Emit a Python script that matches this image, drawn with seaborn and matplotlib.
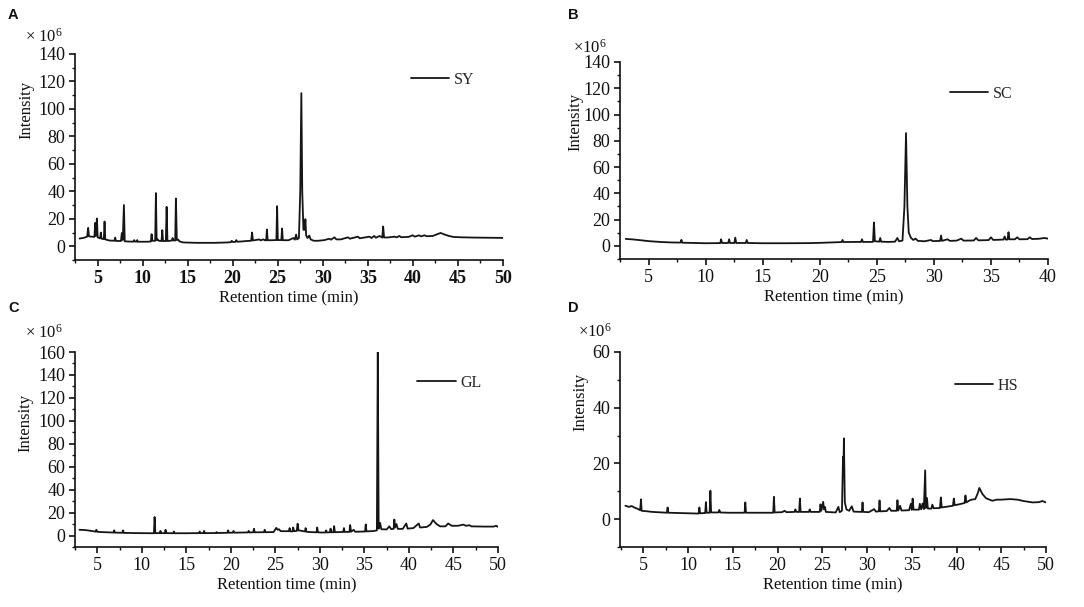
import matplotlib
matplotlib.use("Agg")
import matplotlib.pyplot as plt
import pandas as pd
import seaborn as sns
from matplotlib.ticker import MultipleLocator

# ---------------- data (retention time [min], intensity [x10^6]) ----------------
sy_points = [
    (3.0, 5.6), (3.5, 6.2), (3.85, 7.0), (3.96, 13.4), (4.05, 7.2), (4.4, 7.0), (4.65, 6.8),
    (4.74, 17.0), (4.82, 7.5), (4.93, 20.2), (5.02, 6.5), (5.28, 5.8), (5.37, 10.0), (5.45, 5.5),
    (5.7, 5.2), (5.78, 18.0), (5.86, 5.0), (6.3, 4.2), (6.88, 4.0), (6.96, 6.3), (7.04, 3.9),
    (7.6, 3.8), (7.7, 9.7), (7.8, 4.5), (7.93, 30.0), (8.02, 3.6), (8.6, 3.4), (9.0, 3.4),
    (9.07, 4.5), (9.15, 3.4), (9.35, 3.4), (9.4, 4.5), (9.47, 3.3), (10.5, 3.3), (10.92, 3.5),
    (11.0, 8.8), (11.08, 4.0), (11.4, 4.0), (11.48, 38.7), (11.56, 4.5), (11.67, 5.0), (11.8, 4.0),
    (12.1, 3.8), (12.19, 11.7), (12.27, 3.8), (12.58, 3.8), (12.67, 28.7), (12.76, 3.8),
    (13.25, 4.2), (13.33, 6.0), (13.42, 4.2), (13.62, 4.2), (13.7, 34.8), (13.8, 4.5),
    (13.96, 4.8), (14.1, 3.5), (14.5, 2.8), (16.0, 2.5), (18.0, 2.5), (19.5, 2.8), (19.8, 3.0),
    (19.9, 4.0), (20.0, 3.1), (20.3, 3.2), (20.4, 4.5), (20.5, 3.3), (21.0, 3.5), (21.5, 3.8),
    (22.05, 4.0), (22.15, 10.0), (22.25, 4.2), (22.96, 5.0), (23.1, 4.3), (23.4, 5.0),
    (23.6, 4.3), (23.72, 4.3), (23.8, 12.2), (23.88, 4.4), (24.3, 4.4), (24.85, 4.5),
    (24.93, 29.2), (25.01, 4.5), (25.4, 4.5), (25.48, 13.0), (25.56, 4.4), (26.2, 4.4),
    (26.74, 6.0), (26.9, 4.8), (27.04, 8.5), (27.15, 5.0), (27.35, 6.0), (27.5, 40.0),
    (27.62, 111.5), (27.72, 40.0), (27.85, 12.0), (27.98, 12.0), (28.07, 19.7), (28.15, 8.0),
    (28.3, 6.0), (28.5, 7.8), (28.65, 5.0), (29.0, 4.0), (29.5, 4.0), (30.2, 4.5), (30.7, 5.5),
    (30.9, 4.8), (31.3, 6.5), (31.5, 5.0), (32.0, 5.0), (32.8, 6.5), (33.0, 5.5), (33.9, 7.0),
    (34.1, 5.8), (35.2, 7.0), (35.4, 6.0), (35.7, 7.5), (35.9, 6.2), (36.3, 7.5), (36.6, 6.3),
    (36.7, 14.4), (36.8, 6.4), (37.2, 6.4), (37.96, 7.0), (38.2, 6.5), (38.5, 7.5), (38.7, 6.6),
    (39.5, 6.8), (40.0, 8.0), (40.2, 7.0), (40.7, 8.0), (40.9, 7.2), (41.3, 8.0), (41.5, 7.3),
    (42.2, 7.5), (42.7, 8.8), (43.07, 9.7), (43.5, 8.6), (44.0, 7.5), (44.5, 6.8), (45.5, 6.5),
    (47.0, 6.3), (48.5, 6.2), (50.0, 6.1),
]

sc_points = [
    (3.0, 5.3), (3.5, 5.0), (4.2, 4.4), (5.0, 3.6), (6.0, 3.0), (7.0, 2.6), (7.8, 2.5),
    (7.88, 4.6), (7.96, 2.4), (9.0, 2.2), (10.0, 2.0), (11.28, 2.1), (11.36, 5.0), (11.44, 2.2),
    (11.98, 2.2), (12.06, 5.0), (12.14, 2.2), (12.52, 2.2), (12.6, 6.3), (12.68, 2.2),
    (13.52, 2.2), (13.6, 4.5), (13.68, 2.2), (15.0, 2.0), (17.0, 2.0), (19.0, 2.1), (20.0, 2.3),
    (21.0, 2.6), (21.92, 2.9), (22.0, 4.5), (22.08, 2.9), (23.0, 3.0), (23.62, 3.0), (23.7, 5.0),
    (23.78, 3.0), (24.5, 3.0), (24.67, 3.1), (24.75, 17.8), (24.83, 3.5), (25.22, 3.2),
    (25.3, 6.0), (25.38, 3.2), (26.0, 3.0), (26.6, 3.2), (26.8, 6.0), (26.95, 3.5), (27.25, 4.0),
    (27.42, 30.0), (27.56, 85.9), (27.68, 30.0), (27.8, 10.0), (28.0, 6.0), (28.2, 4.5),
    (28.4, 5.5), (28.6, 3.8), (29.2, 3.5), (29.75, 4.5), (29.9, 3.6), (30.55, 3.8), (30.63, 7.9),
    (30.71, 3.8), (31.2, 5.0), (31.4, 3.8), (32.0, 4.0), (32.4, 5.5), (32.6, 4.0), (33.5, 4.1),
    (33.7, 6.0), (33.9, 4.2), (34.8, 4.4), (35.0, 6.5), (35.2, 4.5), (36.1, 4.8), (36.2, 7.1),
    (36.3, 4.8), (36.46, 4.8), (36.54, 10.4), (36.62, 5.0), (37.1, 5.0), (37.3, 6.5),
    (37.5, 5.0), (38.2, 5.1), (38.4, 6.5), (38.6, 5.2), (39.2, 5.4), (39.7, 6.0), (40.0, 5.5),
]

gl_points = [
    (3.0, 5.0), (3.6, 4.8), (4.0, 4.4), (4.82, 3.4), (4.9, 5.0), (4.98, 3.3), (5.5, 3.0),
    (6.82, 2.6), (6.9, 4.5), (6.98, 2.5), (7.82, 2.4), (7.9, 4.5), (7.98, 2.3), (9.5, 2.1),
    (11.0, 2.0), (11.36, 2.0), (11.44, 16.1), (11.52, 2.1), (12.02, 2.1), (12.1, 4.0),
    (12.18, 2.1), (12.59, 2.1), (12.67, 5.0), (12.75, 2.1), (13.52, 2.0), (13.6, 3.5),
    (13.68, 2.0), (15.0, 2.0), (16.42, 2.1), (16.5, 3.5), (16.58, 2.1), (16.92, 2.1), (17.0, 4.0),
    (17.08, 2.1), (18.32, 2.2), (18.4, 3.0), (18.48, 2.2), (19.62, 2.4), (19.7, 4.5), (19.78, 2.4),
    (20.22, 2.5), (20.3, 4.0), (20.38, 2.5), (21.92, 2.7), (22.0, 4.0), (22.08, 2.7), (22.52, 2.8),
    (22.6, 5.9), (22.68, 2.8), (23.72, 2.9), (23.8, 5.0), (23.88, 2.9), (24.8, 3.0), (25.1, 6.7),
    (25.25, 5.0), (25.4, 5.5), (25.6, 3.8), (26.0, 3.8), (26.52, 3.8), (26.6, 6.5), (26.68, 3.6),
    (26.92, 3.6), (27.0, 7.0), (27.1, 3.8), (27.4, 4.0), (27.5, 10.3), (27.6, 4.5), (28.0, 4.0),
    (28.32, 3.5), (28.4, 6.5), (28.48, 3.3), (29.0, 3.0), (29.62, 2.8), (29.7, 7.0), (29.78, 2.8),
    (30.2, 2.6), (30.62, 2.7), (30.7, 4.5), (30.78, 2.7), (31.12, 2.8), (31.2, 6.0), (31.28, 2.8),
    (31.52, 2.9), (31.6, 8.2), (31.68, 2.9), (32.62, 3.1), (32.7, 6.5), (32.78, 3.1), (33.32, 3.2),
    (33.4, 9.1), (33.5, 3.3), (33.8, 5.0), (33.95, 3.3), (34.5, 3.4), (35.07, 3.5), (35.15, 9.7),
    (35.23, 3.6), (36.0, 3.9), (36.4, 4.5), (36.5, 160.0), (36.6, 6.0), (36.76, 11.0),
    (36.9, 5.5), (37.5, 5.3), (37.8, 8.0), (38.0, 5.6), (38.28, 5.8), (38.36, 14.0), (38.45, 7.0),
    (38.6, 10.0), (38.75, 5.8), (39.3, 5.8), (39.7, 10.5), (39.85, 6.0), (40.5, 6.5),
    (41.1, 10.5), (41.25, 7.0), (42.0, 7.5), (42.4, 9.5), (42.7, 13.5), (43.1, 10.0), (43.5, 8.0),
    (44.1, 8.0), (44.4, 10.5), (44.8, 8.5), (45.5, 8.5), (46.1, 9.5), (46.4, 8.5), (46.8, 9.0),
    (47.0, 8.0), (48.5, 7.8), (49.5, 7.8), (49.8, 8.5), (50.0, 7.5),
]

hs_points = [
    (3.0, 4.8), (3.4, 4.4), (3.7, 4.7), (4.0, 4.2), (4.5, 3.5), (4.66, 3.2), (4.74, 7.1),
    (4.82, 3.0), (5.5, 2.8), (6.0, 2.6), (7.0, 2.4), (7.64, 2.3), (7.72, 4.2), (7.8, 2.3),
    (9.0, 2.2), (10.0, 2.1), (11.0, 2.0), (11.19, 2.0), (11.27, 4.2), (11.35, 2.1), (11.92, 2.2),
    (12.0, 6.1), (12.08, 2.3), (12.42, 2.3), (12.5, 10.2), (12.58, 2.4), (13.4, 2.4), (13.5, 3.3),
    (13.6, 2.4), (14.5, 2.3), (16.32, 2.3), (16.4, 6.0), (16.48, 2.3), (18.0, 2.3), (19.52, 2.3),
    (19.6, 8.0), (19.68, 2.4), (20.5, 2.5), (20.8, 3.0), (21.0, 2.5), (21.9, 2.6), (22.0, 3.5),
    (22.1, 2.6), (22.42, 2.6), (22.5, 7.4), (22.58, 2.6), (23.5, 2.6), (23.6, 3.5), (23.7, 2.6),
    (24.72, 2.6), (24.8, 5.3), (24.9, 3.0), (25.1, 6.2), (25.2, 3.5), (25.3, 4.4), (25.4, 2.6),
    (26.5, 2.4), (26.8, 4.4), (26.95, 2.5), (27.2, 3.0), (27.32, 22.4), (27.36, 16.0),
    (27.42, 29.0), (27.52, 6.0), (27.7, 3.5), (28.0, 3.0), (28.3, 4.6), (28.5, 2.7), (29.42, 2.6),
    (29.5, 6.0), (29.58, 2.6), (30.2, 2.5), (30.8, 3.6), (31.0, 2.7), (31.32, 2.8), (31.4, 6.7),
    (31.48, 2.8), (32.2, 2.9), (32.5, 4.0), (32.7, 3.0), (33.32, 3.0), (33.4, 6.8), (33.5, 3.1),
    (33.7, 4.8), (33.85, 3.1), (34.7, 3.2), (34.9, 5.5), (35.0, 3.3), (35.1, 7.4), (35.2, 3.4),
    (35.8, 3.4), (35.9, 5.5), (36.05, 3.5), (36.2, 5.6), (36.35, 3.6), (36.5, 17.5), (36.58, 4.0),
    (36.7, 7.6), (36.8, 3.8), (37.2, 3.8), (37.3, 5.2), (37.45, 3.9), (38.15, 4.0), (38.25, 7.8),
    (38.35, 4.2), (39.0, 4.5), (39.6, 4.8), (39.7, 7.4), (39.8, 5.0), (40.4, 5.4), (40.9, 5.8),
    (41.0, 8.5), (41.1, 6.0), (41.5, 6.8), (41.7, 7.0), (42.1, 7.2), (42.4, 9.5), (42.55, 11.2),
    (42.9, 9.0), (43.3, 7.5), (44.0, 6.6), (44.5, 7.0), (45.0, 7.0), (46.0, 7.2), (46.8, 7.0),
    (47.5, 6.5), (48.5, 6.0), (49.2, 6.1), (49.6, 6.5), (50.0, 6.0),
]

sample_names = ["SY", "SC", "GL", "HS"]
panel_letters = ["A", "B", "C", "D"]
x_ticks_50 = [5, 10, 15, 20, 25, 30, 35, 40, 45, 50]
x_ticks_40 = [5, 10, 15, 20, 25, 30, 35, 40]
y_ticks_A = [0, 20, 40, 60, 80, 100, 120, 140]
y_ticks_C = [0, 20, 40, 60, 80, 100, 120, 140, 160]
y_ticks_D = [0, 20, 40, 60]

# ---------------- styling ----------------
sns.set_theme(style="ticks")
plt.rcParams["font.family"] = ["Liberation Serif", "DejaVu Serif"]
plt.rcParams["mathtext.fontset"] = "custom"
plt.rcParams["mathtext.rm"] = "Liberation Serif"
plt.rcParams["mathtext.default"] = "regular"

W, H = 1084, 607
fig = plt.figure(figsize=(W / 100, H / 100), dpi=100)


def rect(l, r, t, b):
    return [l / W, 1 - b / H, (r - l) / W, (b - t) / H]


panels = [
    dict(pts=sy_points, rect=rect(75, 503, 54, 260), xlim=(2.5, 50), ylim=(-10, 140),
         xt=x_ticks_50, yt=y_ticks_A, leg=(0.785, 0.874), ylab=(-0.096, 0.728),
         bold_x=True, mult=("× 10$^{6}$", 25, 37), letter=(8, 15)),
    dict(pts=sc_points, rect=rect(620, 1048, 62, 259), xlim=(2.5, 40), ylim=(-10, 140),
         xt=x_ticks_40, yt=y_ticks_A, leg=(0.771, 0.838), ylab=(-0.086, 0.695),
         bold_x=False, mult=("×10$^{6}$", 573, 48), letter=(568, 15)),
    dict(pts=gl_points, rect=rect(75, 498, 352, 547), xlim=(2.5, 50), ylim=(-10, 160),
         xt=x_ticks_50, yt=y_ticks_C, leg=(0.809, 0.841), ylab=(-0.099, 0.636),
         bold_x=False, mult=("× 10$^{6}$", 25, 333), letter=(8, 308)),
    dict(pts=hs_points, rect=rect(620, 1046, 352, 547), xlim=(2.4, 50), ylim=(-10, 60),
         xt=x_ticks_50, yt=y_ticks_D, leg=(0.786, 0.826), ylab=(-0.075, 0.744),
         bold_x=False, mult=("×10$^{6}$", 578, 332), letter=(568, 308)),
]

for name, letter, p in zip(sample_names, panel_letters, panels):
    ax = fig.add_axes(p["rect"])
    df = pd.DataFrame(p["pts"], columns=["time", "intensity"])
    sns.lineplot(data=df, x="time", y="intensity", ax=ax, color="#151515",
                 linewidth=1.3, sort=False, estimator=None, label=name)
    ax.set_xlim(*p["xlim"])
    ax.set_ylim(*p["ylim"])
    ax.set_xticks(p["xt"])
    ax.set_yticks(p["yt"])
    ax.xaxis.set_minor_locator(MultipleLocator(2.5))
    ax.yaxis.set_minor_locator(MultipleLocator(10))
    sns.despine(ax=ax)
    for s in ("left", "bottom"):
        ax.spines[s].set_linewidth(1.2)
        ax.spines[s].set_color("#111111")
    ax.tick_params(which="major", direction="out", length=4, width=1.2,
                   labelsize=13, pad=3, colors="#111111")
    ax.tick_params(which="minor", direction="out", length=2.5, width=1.0, colors="#111111")
    if p["bold_x"]:
        for lbl in ax.get_xticklabels():
            lbl.set_fontweight("bold")
    ax.set_xlabel("Retention time (min)", fontsize=12, labelpad=3, color="#111111")
    ax.set_ylabel("Intensity", fontsize=12, color="#111111")
    ax.yaxis.set_label_coords(*p["ylab"])
    ax.legend(loc="center left", bbox_to_anchor=p["leg"], frameon=False,
              handlelength=2.4, handletextpad=0.3, borderpad=0, borderaxespad=0,
              prop={"family": "Liberation Serif", "size": 11.5})
    txt, mx, my = p["mult"]
    fig.text(mx / W, 1 - my / H, txt, fontsize=12, ha="left", va="center", color="#111111")
    lx, ly = p["letter"]
    fig.text(lx / W, 1 - ly / H, letter, fontsize=10.5, fontweight="bold",
             family="Liberation Sans", ha="left", va="center", color="#111111")

fig.savefig("out.png", dpi=100)
